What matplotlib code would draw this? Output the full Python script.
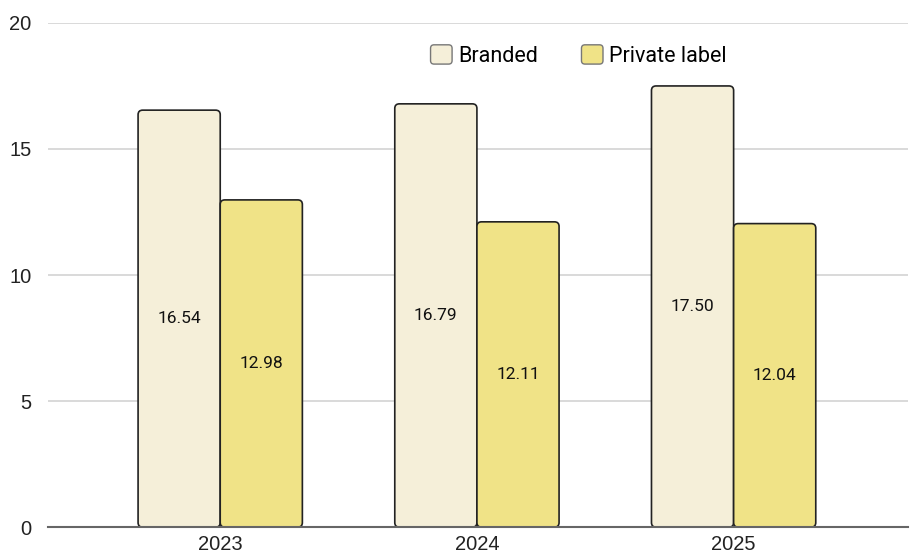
import matplotlib.pyplot as plt
import numpy as np
from matplotlib.patches import FancyBboxPatch
from matplotlib.legend_handler import HandlerPatch

years = ['2023', '2024', '2025']
branded = [16.54, 16.79, 17.50]
private_label = [12.98, 12.11, 12.04]

series = [('Branded', branded, '#F5EFD9'), ('Private label', private_label, '#F0E387')]


class RoundHandler(HandlerPatch):
    def create_artists(self, legend, orig_handle, xdescent, ydescent, width, height, fontsize, trans):
        p = FancyBboxPatch((-xdescent, -ydescent), width, height,
                           boxstyle='round,pad=0,rounding_size=2.5',
                           facecolor=orig_handle.get_facecolor(),
                           edgecolor='#777777', linewidth=1, transform=trans)
        return [p]


fig = plt.figure(figsize=(9.1, 5.59), dpi=100)
ax = fig.add_axes([0.053, 0.057, 0.945, 0.902])

x = np.arange(len(years))
width = 0.32
handles = []
for i, (name, vals, color) in enumerate(series):
    offset = (i - 0.5) * width
    bars = ax.bar(x + offset, vals, width, color=color, edgecolor='#222222',
                  linewidth=1.2, label=name, zorder=3)
    # swap plain rectangles for rounded ones
    for b in bars:
        b.set_visible(False)
        p = FancyBboxPatch((b.get_x(), 0), b.get_width(), b.get_height(),
                           boxstyle='round,pad=0,rounding_size=0.018',
                           mutation_aspect=10, facecolor=color,
                           edgecolor='#222222', linewidth=1.2, zorder=3)
        ax.add_patch(p)
        ax.text(b.get_x() + b.get_width() / 2, b.get_height() / 2, f'{b.get_height():.2f}',
                ha='center', va='center', fontsize=12.5, family='Roboto', color='#111111', zorder=4)
    handles.append(FancyBboxPatch((0, 0), 1, 1, facecolor=color, label=name))

ax.set_xlim(-0.67, 2.68)
ax.set_ylim(0, 20)
ax.set_yticks([0, 5, 10, 15, 20])
ax.set_xticks(x)
ax.set_xticklabels(years)
ax.tick_params(axis='both', length=0, labelsize=14.5, colors='#222222')
ax.tick_params(axis='y', pad=12)
ax.tick_params(axis='x', pad=6)
for lbl in ax.get_xticklabels() + ax.get_yticklabels():
    lbl.set_family('Liberation Sans')
ax.grid(axis='y', color='#d3d3d3', linewidth=1.2, zorder=0)
for s in ['top', 'right', 'left']:
    ax.spines[s].set_visible(False)
ax.spines['bottom'].set_color('#666666')
ax.spines['bottom'].set_linewidth(1.5)
ax.spines['bottom'].set_zorder(5)

ax.legend(handles=handles, loc='upper center', bbox_to_anchor=(0.617, 0.995), ncol=2,
          frameon=False, prop={'family': 'Roboto', 'size': 15.5}, handlelength=1.0,
          handleheight=1.0, columnspacing=2.0, handletextpad=0.3,
          handler_map={FancyBboxPatch: RoundHandler()})

plt.savefig('out.png', dpi=100)
plt.close()
